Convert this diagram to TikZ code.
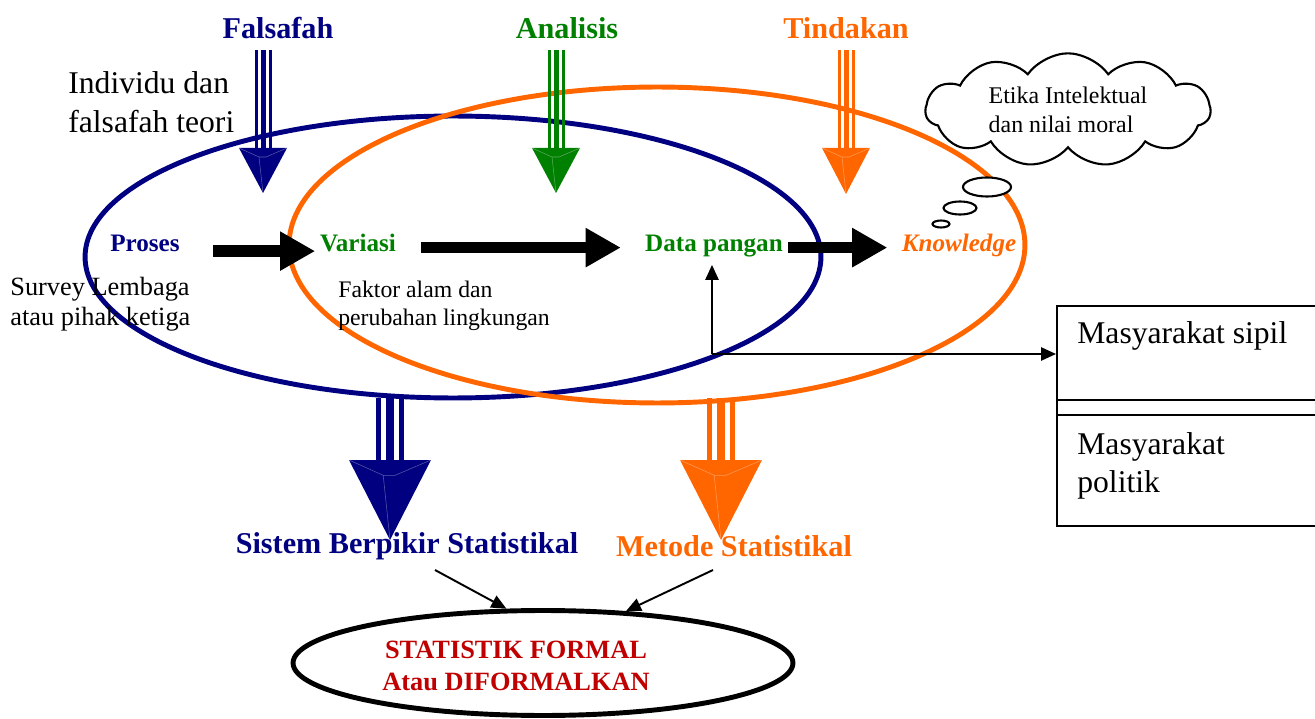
\documentclass[tikz,border=0pt]{standalone}
\usepackage{fontspec}
\setmainfont{Liberation Serif}
\usetikzlibrary{arrows.meta,shapes.geometric,shapes.symbols}
\definecolor{navyc}{RGB}{0,0,128}
\definecolor{greenc}{RGB}{0,128,0}
\definecolor{orangec}{RGB}{255,102,0}
\definecolor{redc}{RGB}{192,0,0}
% #1 x, #2 y top, #3 y head base, #4 y tip, #5 head half width, #6 scale, #7 colour
\newcommand{\TriArrow}[7]{%
  \fill[#7] ({#1-8.5*#6},#2) rectangle ({#1-5.5*#6},#3);
  \fill[#7] ({#1-2.5*#6},#2) rectangle ({#1+2.5*#6},#3);
  \fill[#7] ({#1+5.5*#6},#2) rectangle ({#1+8.5*#6},#3);
  \fill[#7] ({#1-#5},#3) -- ({#1+#5},#3) -- (#1,#4) -- cycle;
  \draw[white,opacity=.35,line width=.3pt] ({#1-#5},#3) -- ({#1-4*#6},{#3+9*#6}) -- (#1,#4)
    ({#1+#5},#3) -- ({#1+3*#6},{#3+9*#6}) -- ({#1-4*#6},{#3+9*#6});
}
\tikzset{
  title/.style={font=\fontsize{17.2}{20}\selectfont\bfseries, inner sep=0pt},
  lbl/.style={font=\fontsize{14.3}{17}\selectfont\bfseries, inner sep=0pt, anchor=base},
  note/.style={inner sep=0pt, anchor=west, align=left},
  blockarrow/.style={line width=6.5pt, -{Triangle[length=20pt,width=21pt]}},
  thinarrow/.style={line width=1.1pt, -{Triangle[length=8.5pt,width=7.5pt]}},
  bubble/.style={draw, ellipse, fill=white, line width=1.2pt, inner sep=0pt},
}
\begin{document}
\begin{tikzpicture}[x=0.02cm,y=-0.02cm]
\useasboundingbox (0,0) rectangle (1315,719);

% big ellipses
\draw[navyc, line width=2.8pt] (453,257) ellipse [x radius=7.36cm, y radius=2.82cm];
\draw[orangec, line width=2.8pt] (657,245) ellipse [x radius=7.36cm, y radius=3.16cm];

% titles
\node[title, text=navyc] (falsafah) at (278,28) {Falsafah};
\node[title, text=greenc] (analisis) at (567,28) {Analisis};
\node[title, text=orangec] (tindakan) at (846,28) {Tindakan};

% triple arrows
\TriArrow{263}{50}{148}{193}{24}{1}{navyc}
\TriArrow{556}{50}{148}{193}{24}{1}{greenc}
\TriArrow{846}{50}{148}{194}{24}{1}{orangec}
\TriArrow{390}{398}{460}{540}{41}{1.7}{navyc}
\TriArrow{721}{398}{460}{540}{41}{1.7}{orangec}

% notes
\node[note, font=\fontsize{18}{22.5}\selectfont] (individu) at (68,102) {Individu dan\\falsafah teori};
\node[note, font=\fontsize{15}{17}\selectfont] (survey) at (10,304) {Survey Lembaga\\atau pihak ketiga};
\node[note, font=\fontsize{13.5}{16}\selectfont] (faktor) at (338,306) {Faktor alam dan\\perubahan lingkungan};

% cloud
\node[draw, cloud, cloud puffs=11, cloud puff arc=110, cloud ignores aspect, fill=white,
      line width=1.2pt, minimum width=5.7cm, minimum height=2.05cm, align=left,
      font=\fontsize{13.6}{16.5}\selectfont] (cloud) at (1068,110) {Etika Intelektual\\dan nilai moral};
\node[bubble, minimum width=0.96cm, minimum height=0.38cm] (b1) at (987,187) {};
\node[bubble, minimum width=0.66cm, minimum height=0.26cm] (b2) at (960,208) {};
\node[bubble, minimum width=0.34cm, minimum height=0.14cm] (b3) at (941,224) {};

% main row (baseline y = 252)
\node[lbl, text=navyc] (proses) at (145,252) {Proses};
\node[lbl, text=greenc] (variasi) at (358,252) {Variasi};
\node[lbl, text=greenc] (data) at (714,252) {Data pangan};
\node[lbl, text=orangec, font=\fontsize{14.3}{17}\selectfont\bfseries\itshape] (know) at (959,252) {Knowledge};

\draw[blockarrow, shorten <=18.8pt, shorten >=2.6pt] ([yshift=0.5pt]proses.base east) -- ([yshift=0.5pt]variasi.base west);
\draw[blockarrow, shorten <=14.2pt, shorten >=13.7pt] ([yshift=2.5pt]variasi.base east) -- ([yshift=2.5pt]data.base west);
\draw[blockarrow, shorten <=2.8pt, shorten >=8pt] ([yshift=2.5pt]data.base east) -- ([yshift=2.5pt]know.base west);

% box
\node[draw, line width=0.9pt, anchor=north west, minimum width=6cm, minimum height=4.4cm, inner sep=0pt] (masy) at (1056,305) {};
\draw[line width=0.9pt] (1056,400) -- (1360,400);
\draw[line width=0.9pt] (1056,415) -- (1360,415);
\node[note, font=\fontsize{18}{22.5}\selectfont] (sipil) at (1077,336) {Masyarakat sipil};
\node[note, font=\fontsize{18}{21.5}\selectfont] (politik) at (1077,466) {Masyarakat\\politik};

% junction arrows
\coordinate (j) at (712,354);
\draw[thinarrow, shorten >=4pt] (j) -- (data.south -| j);
\draw[thinarrow] (j) -- (j -| masy.west);

% bottom
\node[title, text=navyc] (sistem) at (407,546) {Sistem Berpikir Statistikal};
\node[title, text=orangec] (metode) at (734,546) {Metode Statistikal};
\node[draw, ellipse, line width=2.8pt, minimum width=10.0cm, minimum height=2.1cm] (formal) at (543,663) {};
\node[inner sep=0pt, align=center, text=redc, font=\fontsize{15}{18}\selectfont\bfseries] (formaltxt) at (516,666) {STATISTIK FORMAL\\Atau DIFORMALKAN};
\coordinate (s1) at (435,570);
\coordinate (s2) at (713,570);
\draw[thinarrow] (s1) -- (formal.124);
\draw[thinarrow] (s2) -- (formal.32);
\end{tikzpicture}
\end{document}
